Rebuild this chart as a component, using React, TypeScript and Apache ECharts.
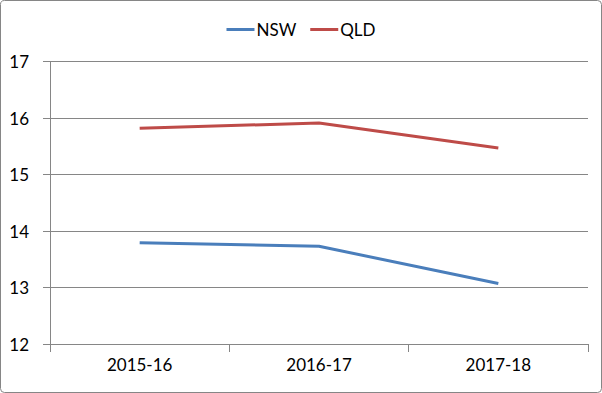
import React, { useEffect, useRef } from "react";
import * as echarts from "echarts";

const categories = ["2015-16", "2016-17", "2017-18"];
const nswValues = [13.79, 13.73, 13.07];
const qldValues = [15.82, 15.91, 15.47];
const yTicks = { min: 12, max: 17, interval: 1 };

export default function App() {
  const ref = useRef<HTMLDivElement>(null);
  useEffect(() => {
    document.body.style.margin = "0";
    const chart = echarts.init(ref.current!, null, { renderer: "svg" });
    const font = "Lato";
    const gridColor = "#868686";
    chart.setOption({
      animation: false,
      backgroundColor: "#ffffff",
      textStyle: { fontFamily: font },
      graphic: [
        {
          type: "rect",
          shape: { x: 0.5, y: 0.5, width: 601, height: 392, r: 4 },
          style: { fill: "none", stroke: gridColor, lineWidth: 1 },
          silent: true,
        },
      ],
      legend: {
        top: 16,
        left: "center",
        itemWidth: 28,
        itemHeight: 3,
        itemGap: 14,
        icon: "rect",
        textStyle: { fontFamily: font, fontSize: 17, color: "#000", padding: [0, 0, 0, -3] },
        data: ["NSW", "QLD"],
      },
      grid: { left: 50, right: 14, top: 61.5, bottom: 49, containLabel: false },
      xAxis: {
        type: "category",
        data: categories,
        boundaryGap: true,
        axisLine: { lineStyle: { color: gridColor, width: 1 } },
        axisTick: { show: true, length: 8, lineStyle: { color: gridColor } },
        axisLabel: { fontFamily: font, fontSize: 17, color: "#000", margin: 12 },
        splitLine: { show: false },
      },
      yAxis: {
        type: "value",
        min: yTicks.min,
        max: yTicks.max,
        interval: yTicks.interval,
        axisLine: { show: true, lineStyle: { color: gridColor, width: 1 } },
        axisTick: { show: true, length: 7, lineStyle: { color: gridColor } },
        axisLabel: { fontFamily: font, fontSize: 17, color: "#000", margin: 21 },
        splitLine: { show: true, lineStyle: { color: gridColor, width: 1 } },
      },
      series: [
        {
          name: "NSW",
          type: "line",
          data: nswValues,
          symbol: "none",
          lineStyle: { color: "#4A7EBB", width: 3 },
          itemStyle: { color: "#4A7EBB" },
        },
        {
          name: "QLD",
          type: "line",
          data: qldValues,
          symbol: "none",
          lineStyle: { color: "#BE4B48", width: 3 },
          itemStyle: { color: "#BE4B48" },
        },
      ],
    });
    return () => chart.dispose();
  }, []);
  return <div ref={ref} style={{ width: 602, height: 393 }} />;
}
